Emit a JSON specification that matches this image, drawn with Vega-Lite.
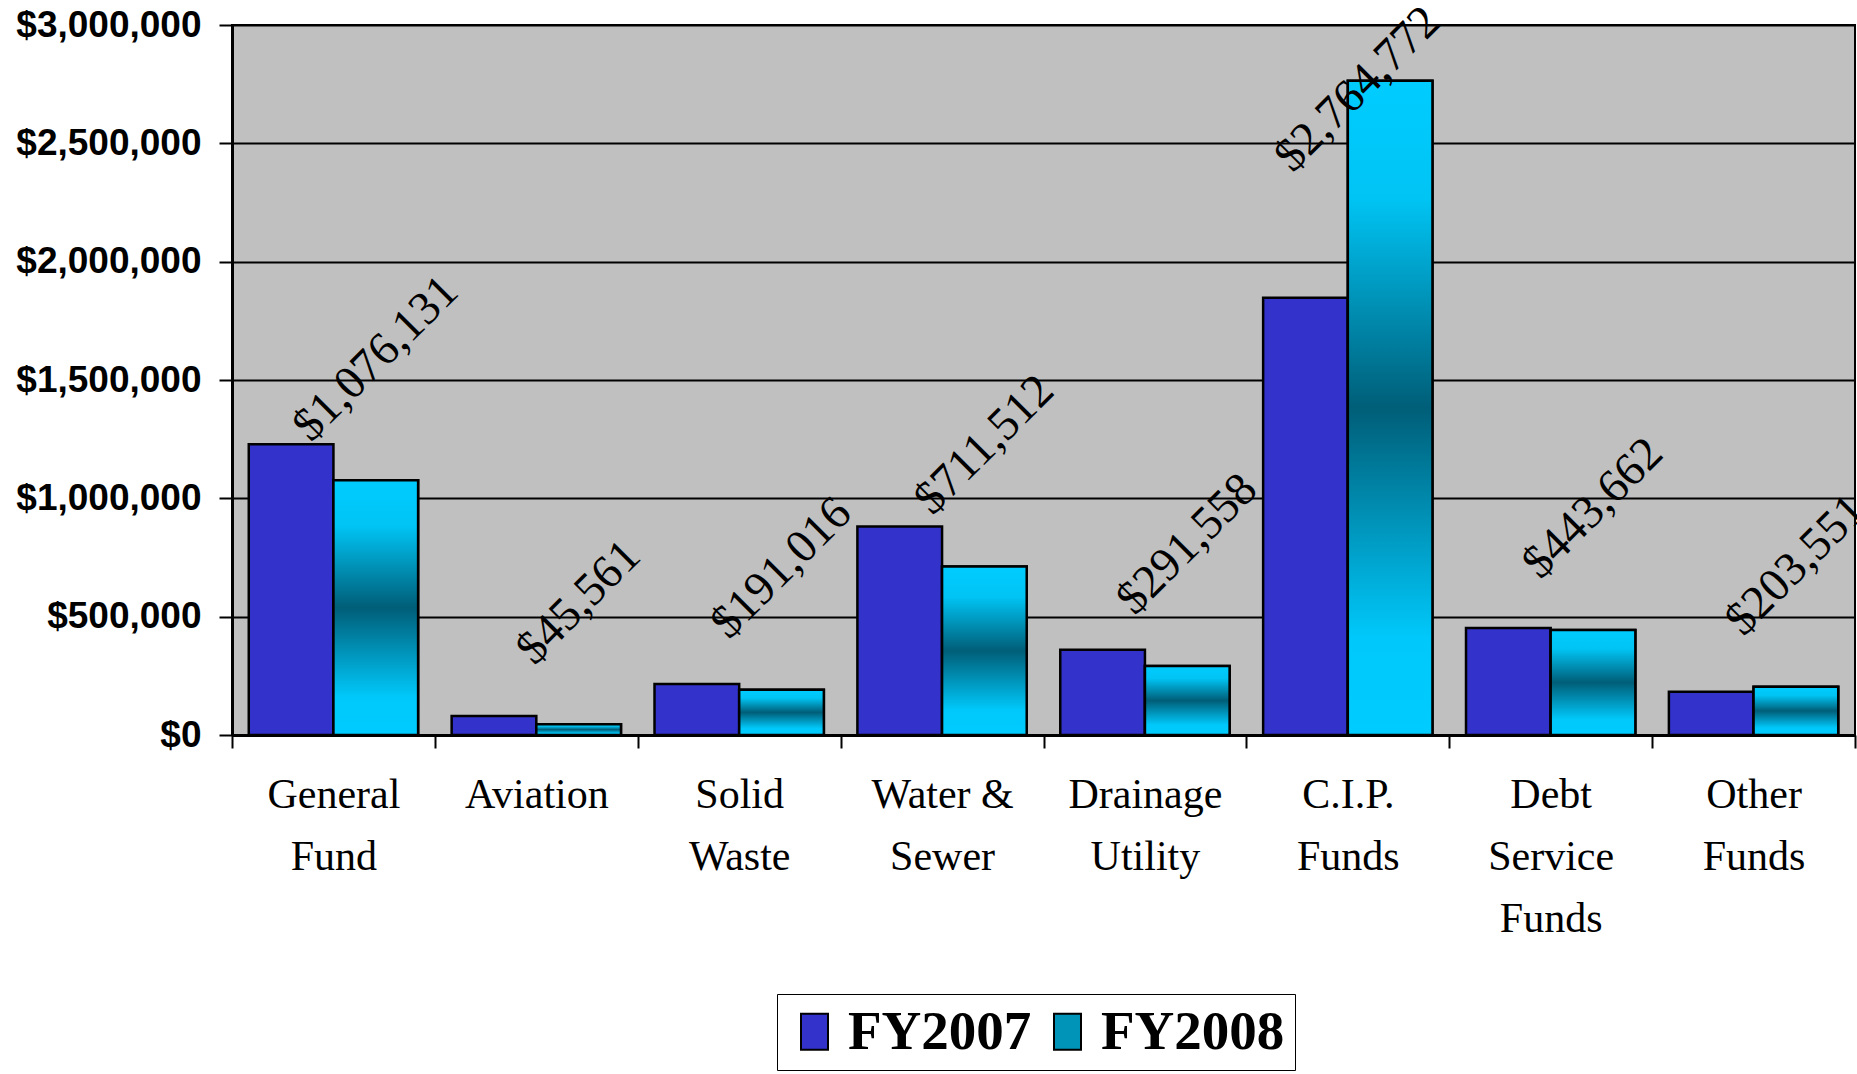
{
  "$schema": "https://vega.github.io/schema/vega-lite/v6.json",
  "width": 1623,
  "height": 710,
  "autosize": {"type": "none"},
  "padding": {"left": 232, "top": 25, "right": 2, "bottom": 339},
  "background": "white",
  "config": {
    "view": {"fill": "#C0C0C0", "stroke": "black", "strokeWidth": 2}
  },
  "data": {
    "values": [
      {"fund": "General Fund", "series": "FY2007", "value": 1228000},
      {"fund": "General Fund", "series": "FY2008", "value": 1076131},
      {"fund": "Aviation", "series": "FY2007", "value": 80000},
      {"fund": "Aviation", "series": "FY2008", "value": 45561},
      {"fund": "Solid Waste", "series": "FY2007", "value": 215000},
      {"fund": "Solid Waste", "series": "FY2008", "value": 191016},
      {"fund": "Water & Sewer", "series": "FY2007", "value": 881000},
      {"fund": "Water & Sewer", "series": "FY2008", "value": 711512},
      {"fund": "Drainage Utility", "series": "FY2007", "value": 360000},
      {"fund": "Drainage Utility", "series": "FY2008", "value": 291558},
      {"fund": "C.I.P. Funds", "series": "FY2007", "value": 1848000},
      {"fund": "C.I.P. Funds", "series": "FY2008", "value": 2764772},
      {"fund": "Debt Service Funds", "series": "FY2007", "value": 452000},
      {"fund": "Debt Service Funds", "series": "FY2008", "value": 443662},
      {"fund": "Other Funds", "series": "FY2007", "value": 183000},
      {"fund": "Other Funds", "series": "FY2008", "value": 203551}
    ]
  },
  "encoding": {
    "x": {
      "field": "fund", "type": "nominal", "sort": null,
      "scale": {"paddingInner": 0, "paddingOuter": 0},
      "axis": {
        "title": null, "labelAngle": 0,
        "labelFont": "Liberation Serif", "labelFontSize": 42, "labelColor": "black",
        "labelLineHeight": 62, "labelBaseline": "top", "labelPadding": 26, "labelLimit": 0,
        "labelExpr": "isValid(datum.value) ? split(replace(datum.value, ' &', '\u00a0&'), ' ') : ''",
        "tickBand": "extent", "tickSize": 13, "tickWidth": 2, "tickColor": "black",
        "domainColor": "black", "domainWidth": 3, "grid": false
      }
    },
    "xOffset": {"field": "series", "type": "nominal", "scale": {"paddingInner": 0, "paddingOuter": 0.198}},
    "y": {
      "field": "value", "type": "quantitative",
      "scale": {"domain": [0, 3000000], "nice": false},
      "axis": {
        "title": null,
        "values": [0, 500000, 1000000, 1500000, 2000000, 2500000, 3000000],
        "format": "$,.0f",
        "labelFont": "Liberation Sans", "labelFontWeight": "bold", "labelFontSize": 37, "labelColor": "black",
        "labelPadding": 18, "labelLimit": 0,
        "tickSize": 13, "tickWidth": 2, "tickColor": "black",
        "domainColor": "black", "domainWidth": 3,
        "grid": true, "gridColor": "black", "gridWidth": 2
      }
    }
  },
  "layer": [
    {
      "mark": {"type": "bar", "stroke": "black", "strokeWidth": 2.5},
      "encoding": {
        "fill": {
          "field": "series", "type": "nominal",
          "scale": {"domain": ["FY2007", "FY2008"], "range": ["#3333CC", "#0095B8"]},
          "legend": {
            "orient": "none", "legendX": 545, "legendY": 969,
            "direction": "horizontal", "title": null,
            "labelFont": "Liberation Serif", "labelFontWeight": "bold", "labelFontSize": 55,
            "labelColor": "black", "labelLimit": 0,
            "symbolType": "M-0.75,-1H0.75V1H-0.75Z", "symbolSize": 1296,
            "symbolStrokeColor": "black", "symbolStrokeWidth": 2,
            "strokeColor": "black", "fillColor": "white",
            "padding": 10, "labelOffset": 6, "columnPadding": 8,
            "encode": {
              "symbols": {
                "update": {
                  "fill": {
                    "condition": {"test": "datum.value === 'FY2008'",
                      "value": {"gradient": "linear", "x1": 0, "y1": 0, "x2": 0, "y2": 1,
                        "stops": [
                          {"offset": 0, "color": "#00CCFF"},
                          {"offset": 0.5, "color": "#005E78"},
                          {"offset": 1, "color": "#00CCFF"}
                        ]}},
                    "value": "#3333CC"
                  },
                  "stroke": {"value": "black"},
                  "strokeWidth": {"value": 2}
                }
              }
            }
          }
        }
      }
    },
    {
      "transform": [{"filter": "datum.series == 'FY2008'"}],
      "mark": {
        "type": "bar", "stroke": "black", "strokeWidth": 2.5,
        "fill": {"gradient": "linear", "x1": 0, "y1": 0, "x2": 0, "y2": 1,
          "stops": [
            {"offset": 0, "color": "#00CCFF"},
            {"offset": 0.18, "color": "#00C4F4"},
            {"offset": 0.5, "color": "#005E78"},
            {"offset": 0.85, "color": "#00C8FA"},
            {"offset": 1, "color": "#00CCFF"}
          ]}
      },
      "encoding": {}
    },
    {
      "transform": [{"filter": "datum.series == 'FY2008' && datum.value < 2500000"}],
      "mark": {"type": "text", "angle": -45, "align": "center", "baseline": "middle",
               "dx": 86, "dy": -86, "font": "Liberation Serif", "fontSize": 47, "color": "black"},
      "encoding": {"text": {"field": "value", "type": "quantitative", "format": "$,.0f"}}
    },
    {
      "transform": [{"filter": "datum.series == 'FY2008' && datum.value >= 2500000"}],
      "mark": {"type": "text", "angle": -45, "align": "center", "baseline": "middle",
               "dx": -29, "dy": -17, "font": "Liberation Serif", "fontSize": 47, "color": "black"},
      "encoding": {"text": {"field": "value", "type": "quantitative", "format": "$,.0f"}}
    }
  ]
}
